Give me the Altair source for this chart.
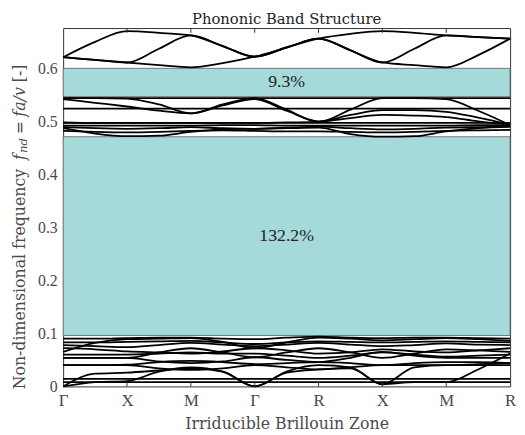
import json
import altair as alt
import pandas as pd

# ---------------- data ----------------
K = [0, 0.5, 1, 1.5, 2, 2.5, 3, 3.5, 4, 4.5, 5, 5.5, 6, 6.5, 7]
X_LABELS = ["Γ", "X", "M", "Γ", "R", "X", "M", "R"]
Y_TICKS = [0, 0.1, 0.2, 0.3, 0.4, 0.5, 0.6]
Y_MAX = 0.676

GAP_LO = [0.096, 0.5465]
GAP_HI = [0.471, 0.600]
GAP_TEXT = ["132.2%", "9.3%"]

# upper group
T1 = [0.621, 0.650, 0.670, 0.667, 0.662, 0.642, 0.622, 0.640, 0.656, 0.665, 0.670, 0.667, 0.662, 0.659, 0.656]
T2 = [0.621, 0.616, 0.611, 0.637, 0.662, 0.642, 0.622, 0.639, 0.656, 0.634, 0.611, 0.637, 0.662, 0.659, 0.656]
T3 = [0.621, 0.616, 0.611, 0.606, 0.602, 0.610, 0.622, 0.639, 0.656, 0.634, 0.611, 0.606, 0.602, 0.625, 0.656]

# middle group
M1 = [0.544, 0.544, 0.544, 0.544, 0.544, 0.544, 0.544, 0.544, 0.544, 0.544, 0.544, 0.544, 0.544, 0.544, 0.544]
M2 = [0.542, 0.535, 0.528, 0.520, 0.515, 0.532, 0.544, 0.522, 0.499, 0.522, 0.544, 0.544, 0.542, 0.520, 0.493]
M3 = [0.544, 0.544, 0.543, 0.532, 0.515, 0.530, 0.542, 0.520, 0.500, 0.512, 0.521, 0.521, 0.518, 0.507, 0.494]
M4 = [0.524, 0.524, 0.524, 0.524, 0.524, 0.524, 0.524, 0.524, 0.524, 0.524, 0.524, 0.524, 0.524, 0.524, 0.524]
M5 = [0.497, 0.497, 0.497, 0.497, 0.497, 0.497, 0.497, 0.498, 0.499, 0.506, 0.512, 0.511, 0.508, 0.500, 0.494]
M6 = [0.498, 0.497, 0.497, 0.497, 0.497, 0.497, 0.497, 0.497, 0.497, 0.497, 0.497, 0.497, 0.497, 0.497, 0.497]
M7 = [0.492, 0.492, 0.492, 0.492, 0.492, 0.493, 0.493, 0.492, 0.492, 0.492, 0.492, 0.492, 0.492, 0.493, 0.493]
M8 = [0.489, 0.487, 0.486, 0.487, 0.489, 0.487, 0.486, 0.488, 0.490, 0.487, 0.485, 0.486, 0.488, 0.489, 0.490]
M9 = [0.487, 0.477, 0.472, 0.473, 0.480, 0.485, 0.486, 0.487, 0.488, 0.476, 0.471, 0.472, 0.481, 0.487, 0.490]
M10 = [0.482, 0.480, 0.479, 0.480, 0.482, 0.483, 0.482, 0.481, 0.481, 0.480, 0.479, 0.480, 0.482, 0.483, 0.484]

# lower group
L1 = [0.008, 0.008, 0.008, 0.008, 0.008, 0.008, 0.008, 0.008, 0.008, 0.008, 0.008, 0.008, 0.008, 0.008, 0.008]
L2 = [0.014, 0.014, 0.014, 0.014, 0.014, 0.014, 0.014, 0.014, 0.014, 0.014, 0.014, 0.014, 0.014, 0.014, 0.014]
A1 = [0.000, 0.024, 0.026, 0.030, 0.034, 0.028, 0.000, 0.026, 0.032, 0.034, 0.004, 0.036, 0.040, 0.040, 0.040]
A2 = [0.000, 0.008, 0.010, 0.028, 0.036, 0.028, 0.000, 0.028, 0.040, 0.036, 0.004, 0.008, 0.008, 0.032, 0.062]
L3 = [0.040, 0.040, 0.040, 0.034, 0.031, 0.034, 0.040, 0.036, 0.032, 0.036, 0.040, 0.040, 0.040, 0.042, 0.044]
L4 = [0.040, 0.040, 0.041, 0.046, 0.048, 0.046, 0.042, 0.044, 0.046, 0.044, 0.040, 0.044, 0.046, 0.046, 0.044]
L5 = [0.054, 0.054, 0.054, 0.064, 0.072, 0.064, 0.055, 0.064, 0.072, 0.064, 0.054, 0.062, 0.070, 0.068, 0.065]
L6 = [0.054, 0.054, 0.054, 0.047, 0.044, 0.047, 0.055, 0.050, 0.046, 0.054, 0.065, 0.058, 0.054, 0.054, 0.054]
L7 = [0.065, 0.082, 0.089, 0.090, 0.091, 0.084, 0.072, 0.083, 0.092, 0.090, 0.087, 0.089, 0.091, 0.089, 0.086]
L8 = [0.072, 0.070, 0.066, 0.064, 0.062, 0.066, 0.072, 0.068, 0.062, 0.064, 0.070, 0.066, 0.064, 0.068, 0.072]
L9 = [0.083, 0.083, 0.084, 0.085, 0.086, 0.083, 0.080, 0.083, 0.085, 0.084, 0.083, 0.084, 0.085, 0.084, 0.083]
L10 = [0.090, 0.090, 0.091, 0.092, 0.092, 0.090, 0.089, 0.092, 0.094, 0.092, 0.091, 0.092, 0.092, 0.091, 0.090]
L11 = [0.078, 0.076, 0.074, 0.078, 0.082, 0.079, 0.076, 0.079, 0.082, 0.079, 0.076, 0.078, 0.081, 0.079, 0.078]
L12 = [0.060, 0.060, 0.060, 0.062, 0.064, 0.062, 0.062, 0.058, 0.054, 0.058, 0.064, 0.060, 0.056, 0.058, 0.060]

BRANCHES = {
    "T1": T1, "T2": T2, "T3": T3,
    "M1": M1, "M2": M2, "M3": M3, "M4": M4, "M5": M5,
    "M6": M6, "M7": M7, "M8": M8, "M9": M9, "M10": M10,
    "L1": L1, "L2": L2, "A1": A1, "A2": A2, "L3": L3, "L4": L4,
    "L5": L5, "L6": L6, "L7": L7, "L8": L8, "L9": L9, "L10": L10,
    "L11": L11, "L12": L12,
}

TICK_POS = [1, 2, 3, 4, 5, 6]
TICK_LEN = 0.009

# ---------------- tables ----------------
rows = []
for name, vals in BRANCHES.items():
    for k, v in zip(K, vals):
        rows.append({"branch": name, "k": k, "v": v})
df_lines = pd.DataFrame(rows)

df_gap = pd.DataFrame({
    "x0": [K[0]] * len(GAP_LO),
    "x1": [K[-1]] * len(GAP_LO),
    "lo": GAP_LO,
    "hi": GAP_HI,
    "mid": [(a + b) / 2 for a, b in zip(GAP_LO, GAP_HI)],
    "xm": [(K[0] + K[-1]) / 2] * len(GAP_LO),
    "label": GAP_TEXT,
})

df_ticks = pd.DataFrame(
    [{"k": t, "a": 0.0, "b": TICK_LEN} for t in TICK_POS]
    + [{"k": t, "a": Y_MAX - TICK_LEN, "b": Y_MAX} for t in TICK_POS]
)

LABEL_COLOR = "#4a4a4a"
TEXT_FONT = "DejaVu Serif"
NUM_FONT = "Liberation Serif"

x_scale = alt.Scale(domain=[K[0], K[-1]], nice=False, zero=False)
y_scale = alt.Scale(domain=[0, Y_MAX], nice=False, zero=False)

x_axis = alt.Axis(
    values=list(range(len(X_LABELS))),
    labelExpr=json.dumps(X_LABELS, ensure_ascii=False).replace('"', "'") + "[round(datum.value)]",
    title="Irriducible Brillouin Zone",
    titleFont=TEXT_FONT, titleFontSize=16, titleFontWeight="normal", titleColor=LABEL_COLOR,
    titlePadding=8,
    labelFont=NUM_FONT, labelFontSize=17, labelColor=LABEL_COLOR, labelPadding=6,
    labelFlush=False, labelOverlap=False,
    ticks=False, domain=False, grid=False,
)
y_axis = alt.Axis(
    values=Y_TICKS,
    labelExpr="datum.value == 0 ? '0' : format(datum.value, '.1f')",
    title="",
    labelFont=NUM_FONT, labelFontSize=16, labelColor=LABEL_COLOR, labelPadding=6,
    labelFlush=False, labelOverlap=False,
    ticks=False, domain=False, grid=False,
)

gaps = alt.Chart(df_gap).mark_rect(
    color="#a6d9d9", stroke="#5a5a5a", strokeWidth=0.8
).encode(
    x=alt.X("x0:Q", scale=x_scale, axis=x_axis),
    x2="x1:Q",
    y=alt.Y("lo:Q", scale=y_scale, axis=y_axis),
    y2="hi:Q",
)

lines = alt.Chart(df_lines).mark_line(
    interpolate="monotone", color="black", strokeWidth=1.8
).encode(
    x=alt.X("k:Q", scale=x_scale),
    y=alt.Y("v:Q", scale=y_scale),
    detail="branch:N",
    order="k:Q",
)

gap_text = alt.Chart(df_gap).mark_text(
    font=NUM_FONT, fontSize=18, color="#222222"
).encode(
    x=alt.X("xm:Q", scale=x_scale),
    y=alt.Y("mid:Q", scale=y_scale),
    text="label:N",
)

ticks = alt.Chart(df_ticks).mark_rule(color="#333333", strokeWidth=1).encode(
    x=alt.X("k:Q", scale=x_scale),
    y=alt.Y("a:Q", scale=y_scale),
    y2="b:Q",
)

# y-axis title built from segments (roman / italic / subscript)
YT_X = -44
def seg(text, ypix, style="normal", size=16, dy=0):
    return alt.Chart(pd.DataFrame({"t": [text]})).mark_text(
        font=TEXT_FONT, fontSize=size, fontStyle=style, color=LABEL_COLOR,
        angle=270, align="left", baseline="middle", dy=dy,
    ).encode(text="t:N", x=alt.value(YT_X), y=alt.value(ypix))

ytitle = [
    seg("Non-dimensional frequency", 367),
    seg("f", 134, style="italic"),
    seg("nd", 127, style="italic", size=12, dy=3),
    seg("=", 108),
    seg("fa/v", 90, style="italic"),
    seg("[-]", 55),
]

chart = alt.layer(gaps, lines, gap_text, ticks, *ytitle).properties(
    width=454,
    height=364,
    autosize=alt.AutoSizeParams(type="none"),
    padding={"left": 56, "top": 17, "right": 7, "bottom": 46},
    title=alt.TitleParams(
        "Phononic Band Structure", font=TEXT_FONT, fontSize=15,
        fontWeight="normal", color="#222222", offset=1, anchor="middle",
    ),
).configure_view(stroke="#333333", strokeWidth=1)

chart.save("out.html", embed_options={"renderer": "svg", "actions": False})
